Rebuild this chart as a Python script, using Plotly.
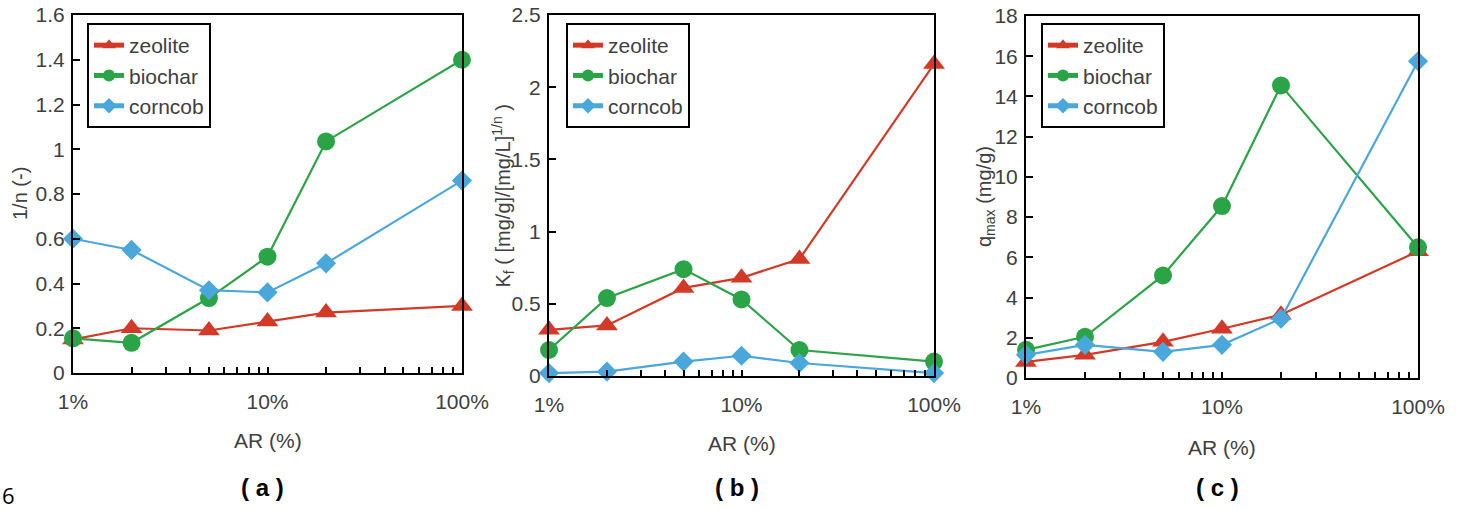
import plotly.graph_objects as go

W, H = 1465, 510

ar = [1, 2, 5, 10, 20, 100]  # AR (%)
series_names = ["zeolite", "biochar", "corncob"]

# panel (a): 1/n
a_zeolite = [0.15, 0.20, 0.19, 0.23, 0.27, 0.30]
a_biochar = [0.155, 0.135, 0.335, 0.52, 1.035, 1.40]
a_corncob = [0.60, 0.55, 0.37, 0.36, 0.49, 0.86]

# panel (b): Kf
b_zeolite = [0.32, 0.35, 0.61, 0.68, 0.81, 2.16]
b_biochar = [0.18, 0.54, 0.74, 0.53, 0.18, 0.10]
b_corncob = [0.02, 0.03, 0.10, 0.14, 0.09, 0.02]

# panel (c): qmax
c_zeolite = [0.80, 1.15, 1.80, 2.45, 3.15, 6.30]
c_biochar = [1.40, 2.05, 5.10, 8.55, 14.55, 6.50]
c_corncob = [1.15, 1.65, 1.30, 1.65, 2.95, 15.75]

x_tickvals = [1, 10, 100]
x_ticktext = ["1%", "10%", "100%"]
minor_vals = [2, 3, 4, 5, 6, 7, 8, 9, 20, 30, 40, 50, 60, 70, 80, 90]

colors = {"zeolite": "#d23a27", "biochar": "#2ba447", "corncob": "#4aa7dc"}
symbols = {"zeolite": "triangle-up", "biochar": "circle", "corncob": "diamond"}
msize = {"zeolite": 19, "biochar": 18, "corncob": 15.5}

panels = [
    dict(data=[a_zeolite, a_biochar, a_corncob], yrange=[0, 1.6],
         ytick=[0, 0.2, 0.4, 0.6, 0.8, 1, 1.2, 1.4, 1.6],
         ytext=["0", "0.2", "0.4", "0.6", "0.8", "1", "1.2", "1.4", "1.6"],
         xd=(73, 462), yd=(15, 373), legx=87,
         ytitle="1/n (-)", ytx=20, xtitle_y=440, lab="( a )"),
    dict(data=[b_zeolite, b_biochar, b_corncob], yrange=[0, 2.5],
         ytick=[0, 0.5, 1, 1.5, 2, 2.5],
         ytext=["0", "0.5", "1", "1.5", "2", "2.5"],
         xd=(549, 934), yd=(15, 376), legx=566,
         ytitle="K<sub>f</sub> ( [mg/g]/[mg/L]<sup>1/n</sup> )", ytx=503, xtitle_y=443, lab="( b )"),
    dict(data=[c_zeolite, c_biochar, c_corncob], yrange=[0, 18],
         ytick=[0, 2, 4, 6, 8, 10, 12, 14, 16, 18],
         ytext=["0", "2", "4", "6", "8", "10", "12", "14", "16", "18"],
         xd=(1026, 1418), yd=(16, 378), legx=1041,
         ytitle="q<sub>max</sub> (mg/g)", ytx=986, xtitle_y=447, lab="( c )"),
]

fig = go.Figure()
FONT = "Liberation Sans, Arial, sans-serif"
TXT = "#404040"
annotations = []

for i, p in enumerate(panels):
    n = "" if i == 0 else str(i + 1)
    leg = "legend" + n
    for name, vals in zip(series_names, p["data"]):
        fig.add_trace(go.Scatter(
            x=ar, y=vals, name=name, mode="lines+markers",
            xaxis="x" + n, yaxis="y" + n, legend=leg,
            legendgroup=f"{name}{i}",
            line=dict(color=colors[name], width=2.2),
            marker=dict(symbol=symbols[name], size=msize[name], color=colors[name]),
            cliponaxis=False,
        ))
    xdom = [p["xd"][0] / W, p["xd"][1] / W]
    ydom = [1 - p["yd"][1] / H, 1 - p["yd"][0] / H]
    axcommon = dict(showline=True, linecolor="black", linewidth=2, mirror=True,
                    showgrid=False, zeroline=False, automargin=False,
                    tickfont=dict(family=FONT, size=21, color=TXT))
    fig.layout["xaxis" + n] = dict(
        axcommon, domain=xdom, type="log", range=[0, 2], anchor="y" + n,
        tickmode="array", tickvals=x_tickvals, ticktext=x_ticktext,
        ticks="inside", ticklen=6, tickwidth=1.5, tickcolor="black",
        ticklabelstandoff=9,
        minor=dict(tickmode="array", tickvals=minor_vals, ticks="inside",
                   ticklen=6, tickwidth=1.5, tickcolor="black", showgrid=False),
    )
    fig.layout["yaxis" + n] = dict(
        axcommon, domain=ydom, range=p["yrange"], anchor="x" + n,
        tickmode="array", tickvals=p["ytick"], ticktext=p["ytext"],
        ticks="inside", ticklen=7, tickwidth=1.5, tickcolor="black",
        ticklabelstandoff=2,
    )
    fig.layout[leg] = dict(
        x=p["legx"] / W, y=1 - 23 / H, xanchor="left", yanchor="top",
        xref="paper", yref="paper",
        bordercolor="black", borderwidth=2, bgcolor="white",
        font=dict(family=FONT, size=21, color=TXT),
        tracegroupgap=6, itemsizing="constant", traceorder="normal",
    )
    ymid = 1 - (p["yd"][0] + p["yd"][1]) / 2 / H
    annotations.append(dict(
        text=p["ytitle"], x=p["ytx"] / W, y=ymid, xref="paper", yref="paper",
        textangle=-90, showarrow=False, xanchor="center", yanchor="middle",
        font=dict(family=FONT, size=20, color=TXT)))
    xmid = (p["xd"][0] + p["xd"][1]) / 2 / W
    annotations.append(dict(
        text="AR (%)", x=xmid, y=1 - p["xtitle_y"] / H, xref="paper", yref="paper",
        showarrow=False, xanchor="center", yanchor="middle",
        font=dict(family=FONT, size=21, color=TXT)))
    annotations.append(dict(
        text="<b>" + p["lab"] + "</b>", x=xmid - 5 / W, y=1 - 487 / H,
        xref="paper", yref="paper", showarrow=False,
        xanchor="center", yanchor="middle",
        font=dict(family=FONT, size=24, color="black")))

annotations.append(dict(
    text="6", x=8 / W, y=1 - 495 / H, xref="paper", yref="paper",
    showarrow=False, xanchor="center", yanchor="middle",
    font=dict(family="Open Sans, sans-serif", size=22, color="black")))

fig.update_layout(
    width=W, height=H,
    margin=dict(l=0, r=0, t=0, b=0, autoexpand=False),
    paper_bgcolor="white", plot_bgcolor="white",
    showlegend=True, annotations=annotations,
)

fig.write_html("out.html")
